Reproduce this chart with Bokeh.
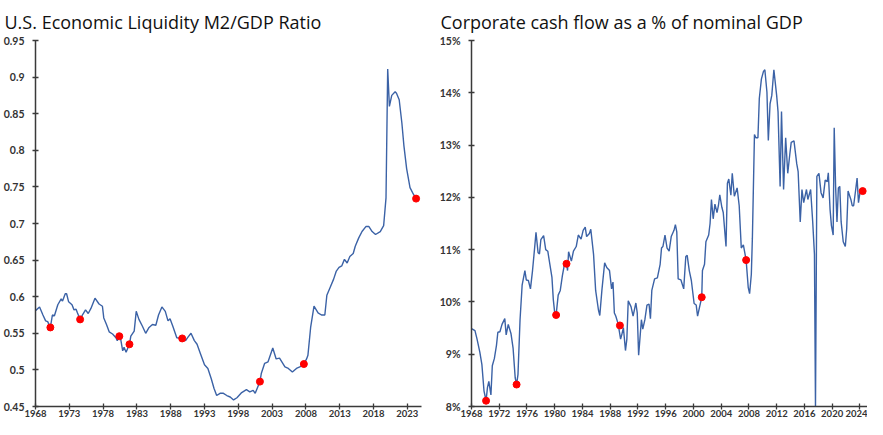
from bokeh.plotting import figure
from bokeh.layouts import row
from bokeh.models import Range1d, FixedTicker
from bokeh.embed import file_html
from bokeh.resources import INLINE

# ---------------- data: M2/GDP ratio ----------------
m2_year = [1968.0, 1968.6, 1969.1, 1969.5, 1969.8, 1970.2, 1970.5, 1970.8, 1971.3, 1971.8,
           1972.0, 1972.4, 1972.6, 1972.9, 1973.4, 1973.7, 1974.0, 1974.2, 1974.6, 1975.0,
           1975.4, 1975.8, 1976.2, 1976.8, 1977.4, 1977.9, 1978.1, 1978.5, 1978.9, 1979.4,
           1979.9, 1980.1, 1980.4, 1980.6, 1980.9, 1981.1, 1981.4, 1981.9, 1982.1, 1982.6,
           1982.9, 1983.3, 1983.8, 1984.3, 1984.8, 1985.3, 1985.8, 1986.2, 1986.7, 1987.2,
           1987.6, 1987.9, 1988.3, 1988.9, 1989.7, 1990.2, 1990.5, 1991.0, 1991.5, 1991.9,
           1992.4, 1993.0, 1993.5, 1994.0, 1994.4, 1994.8, 1995.3, 1995.8, 1996.3, 1996.8,
           1997.3, 1997.8, 1998.5, 1999.2, 1999.7, 2000.2, 2000.5, 2000.8, 2001.2, 2001.4,
           2001.9, 2002.4, 2003.1, 2003.6, 2004.1, 2004.9, 2005.4, 2006.0, 2006.6, 2007.1,
           2007.7, 2008.1, 2008.3, 2008.7, 2009.2, 2009.8, 2010.3, 2010.8, 2011.1, 2011.6,
           2012.1, 2012.5, 2012.9, 2013.3, 2013.7, 2014.1, 2014.5, 2015.0, 2015.3, 2015.8,
           2016.3, 2016.9, 2017.3, 2017.8, 2018.3, 2019.0, 2019.5, 2019.85, 2020.1, 2020.35,
           2020.7, 2021.2, 2021.4, 2021.8, 2022.2, 2022.5, 2022.9, 2023.4, 2023.9, 2024.3]
m2_ratio = [0.581, 0.586, 0.575, 0.567, 0.566, 0.558, 0.575, 0.574, 0.589, 0.597,
            0.594, 0.604, 0.604, 0.593, 0.589, 0.582, 0.583, 0.578, 0.569, 0.576,
            0.582, 0.577, 0.584, 0.598, 0.590, 0.587, 0.571, 0.562, 0.552, 0.549,
            0.544, 0.540, 0.546, 0.542, 0.526, 0.531, 0.524, 0.535, 0.546, 0.553,
            0.580, 0.569, 0.560, 0.550, 0.558, 0.562, 0.561, 0.575, 0.586, 0.580,
            0.567, 0.570, 0.560, 0.544, 0.543, 0.540, 0.544, 0.550, 0.540, 0.535,
            0.522, 0.507, 0.502, 0.488, 0.475, 0.465, 0.468, 0.468, 0.465, 0.463,
            0.459, 0.462, 0.469, 0.473, 0.470, 0.472, 0.468, 0.475, 0.484, 0.495,
            0.509, 0.511, 0.530, 0.515, 0.516, 0.504, 0.502, 0.497, 0.502, 0.504,
            0.508, 0.515, 0.520, 0.558, 0.587, 0.578, 0.575, 0.575, 0.602, 0.613,
            0.624, 0.635, 0.640, 0.642, 0.651, 0.646, 0.655, 0.659, 0.669, 0.680,
            0.689, 0.696, 0.696, 0.689, 0.685, 0.689, 0.697, 0.735, 0.911, 0.860,
            0.875, 0.880, 0.878, 0.869, 0.837, 0.806, 0.775, 0.749, 0.740, 0.734]
m2_dot_year = [1970.2, 1974.6, 1980.4, 1981.9, 1989.7, 2001.2, 2007.7, 2024.3]
m2_dot_ratio = [0.558, 0.569, 0.546, 0.535, 0.543, 0.484, 0.508, 0.734]
m2_yticks = [0.45, 0.5, 0.55, 0.6, 0.65, 0.7, 0.75, 0.8, 0.85, 0.9, 0.95]
m2_ytick_labels = ["0.45", "0.5", "0.55", "0.6", "0.65", "0.7", "0.75", "0.8", "0.85", "0.9", "0.95"]
m2_xticks = [1968, 1973, 1978, 1983, 1988, 1993, 1998, 2003, 2008, 2013, 2018, 2023]

# ---------------- data: corporate cash flow % of GDP ----------------
cf_year = [1968.0, 1968.5, 1968.8, 1969.2, 1969.5, 1969.8, 1970.1, 1970.3, 1970.5, 1970.8,
           1971.0, 1971.3, 1971.6, 1971.8, 1972.1, 1972.4, 1972.8, 1973.0, 1973.3, 1973.7,
           1974.0, 1974.3, 1974.5, 1974.7, 1975.0, 1975.3, 1975.7, 1975.9, 1976.2, 1976.5,
           1976.8, 1977.1, 1977.3, 1977.6, 1977.8, 1978.0, 1978.4, 1978.7, 1979.0, 1979.3,
           1979.6, 1979.8, 1980.0, 1980.2, 1980.5, 1980.8, 1981.1, 1981.4, 1981.7, 1981.85,
           1982.0, 1982.4, 1982.7, 1983.1, 1983.4, 1983.8, 1984.1, 1984.4, 1984.6, 1985.0,
           1985.2, 1985.6, 1985.9, 1986.3, 1986.5, 1986.8, 1987.2, 1987.5, 1987.9, 1988.2,
           1988.4, 1988.6, 1988.8, 1989.1, 1989.3, 1989.5, 1989.7, 1989.9, 1990.2, 1990.4,
           1990.6, 1991.0, 1991.3, 1991.7, 1991.9, 1992.1, 1992.5, 1992.7, 1993.0, 1993.3,
           1993.6, 1993.8, 1994.0, 1994.4, 1994.8, 1995.2, 1995.4, 1995.6, 1995.9, 1996.2,
           1996.5, 1996.8, 1997.2, 1997.4, 1997.6, 1997.8, 1998.2, 1998.6, 1998.9, 1999.1,
           1999.4, 1999.7, 2000.1, 2000.4, 2000.6, 2001.2, 2001.3, 2001.6, 2001.8, 2002.2,
           2002.4, 2002.6, 2002.85, 2003.1, 2003.4, 2003.6, 2003.8, 2004.1, 2004.3, 2004.7,
           2004.9, 2005.1, 2005.4, 2005.6, 2005.9, 2006.3, 2006.6, 2006.9, 2007.2, 2007.6,
           2007.9, 2008.1, 2008.35, 2008.5, 2008.8, 2009.0, 2009.3, 2009.5, 2009.8, 2010.1,
           2010.3, 2010.6, 2010.8, 2011.05, 2011.3, 2011.6, 2012.0, 2012.2, 2012.5, 2012.7,
           2013.0, 2013.3, 2013.6, 2013.9, 2014.1, 2014.5, 2014.9, 2015.1, 2015.4, 2015.65,
           2015.9, 2016.3, 2016.5, 2016.9, 2017.2, 2017.45, 2017.6, 2017.8, 2018.1, 2018.4,
           2018.7, 2019.0, 2019.3, 2019.45, 2019.7, 2019.9, 2020.15, 2020.3, 2020.5, 2020.7,
           2020.9, 2021.1, 2021.3, 2021.6, 2021.9, 2022.1, 2022.3, 2022.7, 2022.9, 2023.1,
           2023.4, 2023.6, 2023.8, 2024.0, 2024.4]
cf_pct = [9.49, 9.45, 9.29, 9.04, 8.80, 8.30, 8.11, 8.36, 8.48, 8.22,
          8.78, 8.92, 9.17, 9.42, 9.43, 9.57, 9.68, 9.37, 9.57, 9.39,
          9.11, 8.55, 8.42, 8.61, 9.66, 10.32, 10.60, 10.42, 10.41, 10.25,
          10.60, 11.03, 11.33, 10.94, 10.92, 11.19, 11.27, 11.00, 10.97, 10.72,
          10.47, 10.04, 9.79, 9.75, 10.13, 10.22, 10.50, 10.72, 10.73, 10.60,
          10.96, 10.78, 10.97, 11.06, 11.28, 11.20, 11.37, 11.43, 11.25, 11.31,
          11.39, 10.91, 10.22, 9.85, 9.74, 10.22, 10.75, 10.66, 10.60, 10.25,
          10.38, 9.79, 9.73, 9.60, 9.45, 9.29, 9.39, 9.51, 9.07, 9.29,
          10.02, 9.91, 9.73, 9.98, 9.79, 8.98, 9.66, 9.48, 9.66, 9.94,
          9.96, 9.68, 10.22, 10.44, 10.46, 10.72, 11.03, 11.06, 11.28, 11.03,
          10.97, 11.25, 11.37, 11.48, 11.34, 10.44, 10.42, 10.25, 10.87, 10.89,
          10.60, 10.41, 9.97, 9.94, 9.73, 10.09, 10.60, 10.72, 11.15, 11.28,
          11.50, 11.96, 11.59, 11.87, 11.71, 11.84, 12.05, 11.81, 11.71, 11.06,
          12.27, 12.35, 12.04, 12.46, 12.02, 12.18, 11.84, 11.03, 11.09, 10.80,
          10.28, 10.16, 10.53, 11.22, 13.20, 13.14, 13.14, 13.89, 14.26, 14.41,
          14.44, 14.01, 13.09, 13.79, 13.95, 14.44, 13.95, 13.64, 12.21, 13.64,
          12.15, 13.14, 12.46, 12.83, 13.05, 13.08, 12.64, 12.49, 11.53, 12.15,
          11.90, 12.15, 11.96, 12.15, 11.53, 10.91, 8.00, 12.40, 12.46, 12.09,
          11.99, 12.33, 12.30, 12.47, 11.77, 11.46, 11.28, 13.33, 12.21, 11.53,
          12.18, 12.21, 11.53, 11.15, 11.06, 11.40, 12.12, 11.96, 11.84, 11.84,
          12.15, 12.37, 11.90, 12.08, 12.12]
cf_dot_year = [1970.1, 1974.5, 1980.2, 1981.7, 1989.4, 2001.2, 2007.6, 2024.4]
cf_dot_pct = [8.11, 8.42, 9.75, 10.73, 9.55, 10.09, 10.80, 12.12]
cf_yticks = [8, 9, 10, 11, 12, 13, 14, 15]
cf_ytick_labels = ["8%", "9%", "10%", "11%", "12%", "13%", "14%", "15%"]
cf_xticks = [1968, 1972, 1976, 1980, 1984, 1988, 1992, 1996, 2000, 2004, 2008, 2012, 2016, 2020, 2024]

LINE = "#3B62A6"
DOT = "#FF0000"
AXIS = "#3A3A3A"
TICKTXT = "#333333"


def make(title, xs, ys, dx, dy, yr, yticks, ylabels, xticks, width, bl, br):
    p = figure(width=width, height=419, output_backend="svg", toolbar_location=None,
               x_range=Range1d(1968, 2025.1), y_range=Range1d(*yr),
               min_border_left=bl, min_border_right=br, min_border_top=37, min_border_bottom=12)
    p.title.text = title
    p.title.text_font = "Open Sans"
    p.title.text_font_size = "18px"
    p.title.text_font_style = "normal"
    p.title.text_color = "#111111"
    p.title.offset = -bl + 1
    p.title.standoff = 14
    p.outline_line_color = None
    p.xgrid.visible = False
    p.ygrid.visible = False
    p.line(xs, ys, line_color=LINE, line_width=1.4)
    p.scatter(dx, dy, size=7, fill_color=DOT, line_color=DOT)
    for ax in (p.xaxis[0], p.yaxis[0]):
        ax.axis_line_color = AXIS
        ax.axis_line_width = 1.5
        ax.major_tick_line_color = AXIS
        ax.major_tick_line_width = 1.3
        ax.major_tick_in = 3
        ax.major_tick_out = 3
        ax.minor_tick_line_color = None
        ax.major_label_text_font = "Lato"
        ax.major_label_text_font_style = "bold"
        ax.major_label_text_color = TICKTXT
    p.yaxis[0].major_label_text_font_size = "10.5px"
    p.xaxis[0].major_label_text_font_size = "9.5px"
    p.yaxis[0].ticker = FixedTicker(ticks=yticks)
    p.yaxis[0].major_label_overrides = {t: l for t, l in zip(yticks, ylabels)}
    p.yaxis[0].major_label_standoff = 8
    p.xaxis[0].ticker = FixedTicker(ticks=xticks)
    p.xaxis[0].major_label_overrides = {t: str(t) for t in xticks}
    p.xaxis[0].major_label_standoff = 0
    return p


p1 = make("U.S. Economic Liquidity M2/GDP Ratio", m2_year, m2_ratio, m2_dot_year, m2_dot_ratio,
          (0.45, 0.95), m2_yticks, m2_ytick_labels, m2_xticks, 436, 32, 15)
p2 = make("Corporate cash flow as a % of nominal GDP", cf_year, cf_pct, cf_dot_year, cf_dot_pct,
          (8, 15), cf_yticks, cf_ytick_labels, cf_xticks, 431, 32, 0)

layout = row(p1, p2)
open("out.html", "w").write(file_html(layout, INLINE))
